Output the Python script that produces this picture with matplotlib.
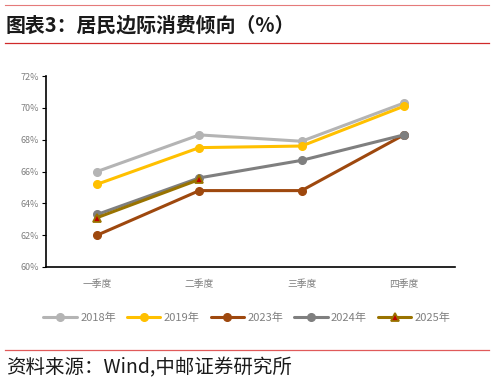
import matplotlib
matplotlib.use("Agg")
import matplotlib.pyplot as plt
from matplotlib.lines import Line2D
from matplotlib.ticker import FuncFormatter

plt.rcParams["font.family"] = ["Noto Sans CJK SC", "DejaVu Sans"]
plt.rcParams["axes.unicode_minus"] = False

quarters = ["一季度", "二季度", "三季度", "四季度"]
years = ["2018年", "2019年", "2023年", "2024年", "2025年"]
values = {
    "2018年": [66.0, 68.3, 67.9, 70.3],
    "2019年": [65.2, 67.5, 67.6, 70.1],
    "2023年": [62.0, 64.8, 64.8, 68.3],
    "2024年": [63.3, 65.6, 66.7, 68.3],
    "2025年": [63.1, 65.5],
}
colors = {
    "2018年": "#B4B4B4",
    "2019年": "#FFC000",
    "2023年": "#9E480E",
    "2024年": "#7F7F7F",
    "2025年": "#997300",
}

W, H = 494, 385
fig = plt.figure(figsize=(W / 100, H / 100), dpi=100, facecolor="white")

# header / footer decorations
fig.add_artist(Line2D([5 / W, 489 / W], [1 - 5 / H, 1 - 5 / H], color="#E57A7A", lw=0.8))
fig.add_artist(Line2D([5 / W, 489 / W], [1 - 43 / H, 1 - 43 / H], color="#D02A2A", lw=0.9))
fig.add_artist(Line2D([5 / W, 489 / W], [1 - 350 / H, 1 - 350 / H], color="#E05A5A", lw=0.9))
fig.text(6 / W, 1 - 25 / H, "图表3：居民边际消费倾向（%）", fontsize=14.3, fontweight="bold",
         color="#1a1a1a", va="center", ha="left")
fig.text(6 / W, 1 - 368 / H, "资料来源：Wind,中邮证券研究所", fontsize=14,
         color="#1a1a1a", va="center", ha="left")

ax = fig.add_axes([46 / W, 1 - 267 / H, (455 - 46) / W, (267 - 76) / H])
x = list(range(len(quarters)))
for yr in years:
    v = values[yr]
    if yr == "2025年":
        ax.plot(x[:len(v)], v, color=colors[yr], lw=3, marker="^", markersize=8.5,
                markerfacecolor="#C00000", markeredgecolor=colors[yr], markeredgewidth=1.3,
                label=yr, solid_capstyle="round")
    else:
        ax.plot(x[:len(v)], v, color=colors[yr], lw=3, marker="o", markersize=9,
                label=yr, solid_capstyle="round")

ax.set_xlim(-0.5, 3.5)
ax.set_ylim(60, 72)
ax.set_yticks([60, 62, 64, 66, 68, 70, 72])
ax.yaxis.set_major_formatter(FuncFormatter(lambda v, p: f"{v:.0f}%"))
ax.set_xticks(x)
ax.set_xticklabels(quarters)
ax.tick_params(axis="y", colors="black", labelcolor="#808080", labelsize=6.5,
               length=3, width=0.8, direction="out", pad=2)
ax.tick_params(axis="x", length=0, labelcolor="#808080", labelsize=7, pad=9)
for s in ["top", "right"]:
    ax.spines[s].set_visible(False)
for s in ["left", "bottom"]:
    ax.spines[s].set_linewidth(1.2)
    ax.spines[s].set_color("black")

handles, labels = ax.get_legend_handles_labels()
for h in handles:
    h.set_markersize(5.5)
    h.set_linewidth(2.2)
leg = fig.legend(handles, labels, loc="center", bbox_to_anchor=(247 / W, 1 - 318 / H),
                 ncol=5, frameon=False, fontsize=8, handlelength=3.0, handletextpad=0.3,
                 columnspacing=1.0, labelcolor="#808080")

fig.savefig("out.png", dpi=100, facecolor="white")
